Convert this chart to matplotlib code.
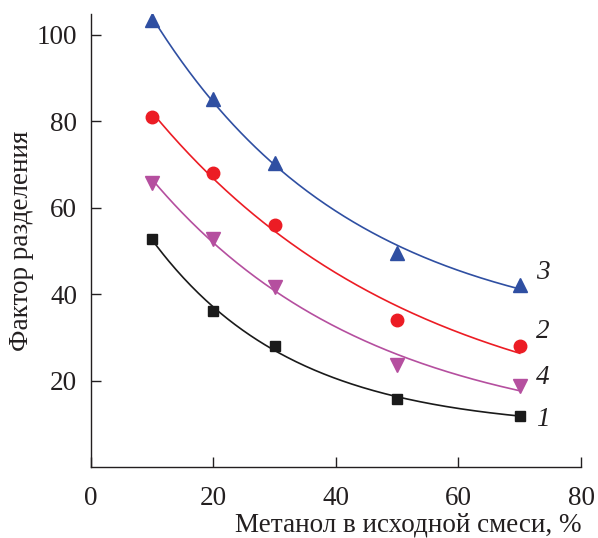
import numpy as np
import matplotlib
matplotlib.use("Agg")
import matplotlib.pyplot as plt

x = [10, 20, 30, 50, 70]
s1 = [52.8, 36.0, 28.0, 15.8, 11.9]
s2 = [81.0, 68.0, 56.0, 33.9, 27.9]
s3 = [103.5, 85.2, 70.4, 49.4, 42.2]
s4 = [65.8, 52.8, 41.7, 23.7, 18.8]
labels = ["1", "2", "3", "4"]

plt.rcParams['font.family'] = ['Liberation Serif', 'DejaVu Serif']

def fit_exp(xv, yv):
    xv = np.asarray(xv, float); yv = np.asarray(yv, float)
    best = None
    for c in np.linspace(0.005, 0.2, 400):
        A = np.column_stack([np.ones_like(xv), np.exp(-c * xv)])
        coef, res, *_ = np.linalg.lstsq(A, yv, rcond=None)
        r = np.sum((A @ coef - yv) ** 2)
        if best is None or r < best[0]:
            best = (r, c, coef)
    _, c, coef = best
    return lambda t: coef[0] + coef[1] * np.exp(-c * t)

fig = plt.figure(figsize=(5.98, 5.38), dpi=100)
ax = fig.add_axes([0.152, 0.132, 0.8196, 0.842])

series = [
    (s3, "#2f4fa2", "^", 10, "3"),
    (s2, "#ec1c24", "o", 9, "2"),
    (s4, "#b54f9f", "v", 10, "4"),
    (s1, "#1a1a1a", "s", 7.5, "1"),
]
xs = np.linspace(10, 70, 200)
for ys, col, mk, ms, lab in series:
    f = fit_exp(x, ys)
    ax.plot(xs, f(xs), color=col, lw=1.2)
    ax.plot(x, ys, linestyle='none', marker=mk, color=col, ms=ms)

label_y = {"3": 45.0, "2": 31.3, "4": 20.7, "1": 11.0}
for lab in labels:
    ax.text(72.6, label_y[lab], lab, fontsize=19.5, style='italic',
            ha='left', va='center', color='#231f20')

ax.set_xlim(0, 80)
ax.set_ylim(0, 104.8)
ax.set_xticks([0, 20, 40, 60, 80])
ax.set_yticks([20, 40, 60, 80, 100])
ax.spines['top'].set_visible(False)
ax.spines['right'].set_visible(False)
for sp in ['left', 'bottom']:
    ax.spines[sp].set_color('#231f20')
    ax.spines[sp].set_linewidth(1.0)
ax.tick_params(direction='in', length=7, width=1.0, labelsize=19.5,
               colors='#231f20')
ax.tick_params(axis='y', pad=10)
ax.tick_params(axis='x', pad=14)
ax.set_xlabel("Метанол в исходной смеси, %", fontsize=19.5, color='#231f20',
              loc='right', labelpad=1)
ax.set_ylabel("Фактор разделения", fontsize=19.5, color='#231f20', labelpad=2)

fig.savefig("out.png", dpi=100)
